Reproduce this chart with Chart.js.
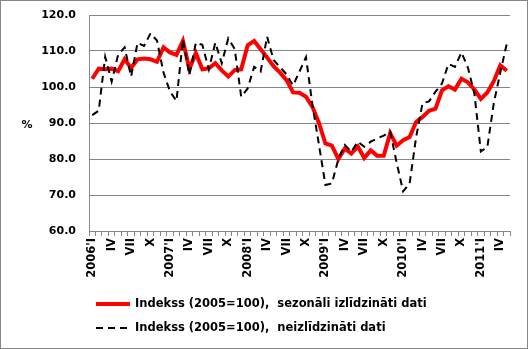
<!DOCTYPE html>
<html>
<head>
<meta charset="utf-8">
<script src="https://cdn.jsdelivr.net/npm/chart.js@4.4.1/dist/chart.umd.min.js"></script>
<style>
  body { margin: 0; background: #fff; }
  #box { width: 526px; height: 347px; border: 1px solid #868686; }
</style>
</head>
<body>
<div id="box"><canvas id="chart" width="526" height="347"></canvas></div>
<script>
// ==========================
// DATA
// ==========================
const years = [2006, 2007, 2008, 2009, 2010, 2011];
const romanMonths = ['I', 'II', 'III', 'IV', 'V', 'VI', 'VII', 'VIII', 'IX', 'X', 'XI', 'XII'];

// 2006 I ... 2011 V
const categories = [];
years.forEach(function (y) {
    romanMonths.forEach(function (m, i) {
        if (y === 2011 && i > 4) return;
        categories.push(i === 0 ? y + "'" + m : m);
    });
});

const seasonalLabel = 'Indekss (2005=100),  sezonāli izlīdzināti dati';
const rawLabel = 'Indekss (2005=100),  neizlīdzināti dati';

const seasonal = [
    102.3, 105.1, 104.9, 105.1, 104.4, 107.7, 105.3, 107.7, 107.9, 107.7, 107.0, 111.0,
    109.6, 108.9, 112.8, 105.0, 109.4, 104.9, 105.2, 106.6, 104.6, 102.9, 104.7, 104.9,
    111.6, 112.8, 110.5, 108.2, 105.8, 104.0, 101.9, 98.5, 98.4, 97.3, 94.5, 90.0,
    84.3, 83.7, 80.0, 82.9, 81.5, 83.5, 80.3, 82.4, 80.9, 80.9, 87.2, 83.7,
    85.2, 86.1, 90.3, 91.7, 93.4, 94.0, 99.1, 100.2, 99.3, 102.3, 101.3, 99.3,
    96.7, 98.5, 101.6, 106.0, 104.5
];

const raw = [
    92.2, 93.4, 108.4, 101.5, 109.0, 111.0, 102.9, 112.3, 111.4, 114.9, 112.9, 104.0,
    98.8, 96.1, 113.2, 103.3, 112.3, 111.7, 104.9, 112.3, 106.6, 113.5, 110.5, 97.3,
    99.6, 105.6, 104.3, 114.0, 107.5, 105.5, 103.5, 100.4, 104.3, 108.3, 95.0, 84.0,
    72.8, 73.2, 80.0, 83.9, 82.0, 84.8, 83.4, 84.8, 85.7, 86.5, 87.6, 79.0,
    71.0, 73.2, 86.0, 95.5, 96.0, 98.7, 101.0, 106.4, 105.6, 109.6, 105.4, 98.2,
    82.1, 83.3, 95.5, 104.0, 112.0
];

const yTicks = { min: 60, max: 120, step: 10 };

// ==========================
// STYLE
// ==========================
const FONT = 'DejaVu Sans';
const GRAY = '#868686';

// legend + % sign drawn by hand (Excel-like layout)
const extras = {
    id: 'extras',
    afterDraw(chart) {
        const ctx = chart.ctx;
        ctx.save();
        ctx.fillStyle = '#000';
        ctx.font = 'bold 11px ' + FONT;
        ctx.textBaseline = 'middle';
        ctx.textAlign = 'center';
        ctx.fillText('%', 26, 124);

        const rows = [303, 327];
        ctx.font = 'bold 11.5px ' + FONT;
        ctx.textAlign = 'left';
        chart.data.datasets.forEach(function (ds, i) {
            const y = rows[i];
            ctx.beginPath();
            ctx.strokeStyle = ds.borderColor;
            ctx.lineWidth = ds.borderWidth;
            ctx.setLineDash(ds.borderDash || []);
            ctx.moveTo(95, y);
            ctx.lineTo(129, y);
            ctx.stroke();
            ctx.setLineDash([]);
            ctx.fillText(ds.label, 134, y);
        });
        ctx.restore();
    }
};

const ctx = document.getElementById('chart').getContext('2d');

const chart = new Chart(ctx, {
    type: 'line',
    data: {
        labels: categories,
        datasets: [{
            label: seasonalLabel,
            data: seasonal,
            borderColor: '#ff0000',
            borderWidth: 4,
            pointRadius: 0,
            tension: 0,
            order: 1
        }, {
            label: rawLabel,
            data: raw,
            borderColor: '#000000',
            borderWidth: 2,
            borderDash: [7, 5],
            pointRadius: 0,
            tension: 0,
            order: 0
        }]
    },
    options: {
        responsive: false,
        animation: false,
        devicePixelRatio: 1,
        layout: { padding: { top: 14, right: 17, bottom: 70, left: 0 } },
        plugins: {
            legend: { display: false },
            tooltip: { enabled: false }
        },
        scales: {
            x: {
                offset: true,
                afterFit: function (scale) { scale.height = 47; },
                grid: {
                    offset: true,
                    drawOnChartArea: false,
                    drawTicks: true,
                    tickLength: 5,
                    color: GRAY
                },
                border: { display: true, color: GRAY },
                ticks: {
                    autoSkip: false,
                    maxRotation: 90,
                    minRotation: 90,
                    padding: 2,
                    color: '#000',
                    font: { family: FONT, size: 11.5, weight: 'bold' },
                    callback: function (v, i) { return i % 3 === 0 ? categories[i] : ''; }
                }
            },
            y: {
                min: yTicks.min,
                max: yTicks.max,
                afterFit: function (scale) {
                    scale.width = 88;
                    scale.paddingTop = 0;
                    scale.paddingBottom = 0;
                },
                grid: { color: GRAY, drawTicks: false },
                border: { display: true, color: GRAY },
                ticks: {
                    stepSize: yTicks.step,
                    padding: 13,
                    color: '#000',
                    font: { family: FONT, size: 11, weight: 'bold' },
                    callback: function (v) { return v.toFixed(1); }
                }
            }
        }
    },
    plugins: [extras]
});
</script>
</body>
</html>
